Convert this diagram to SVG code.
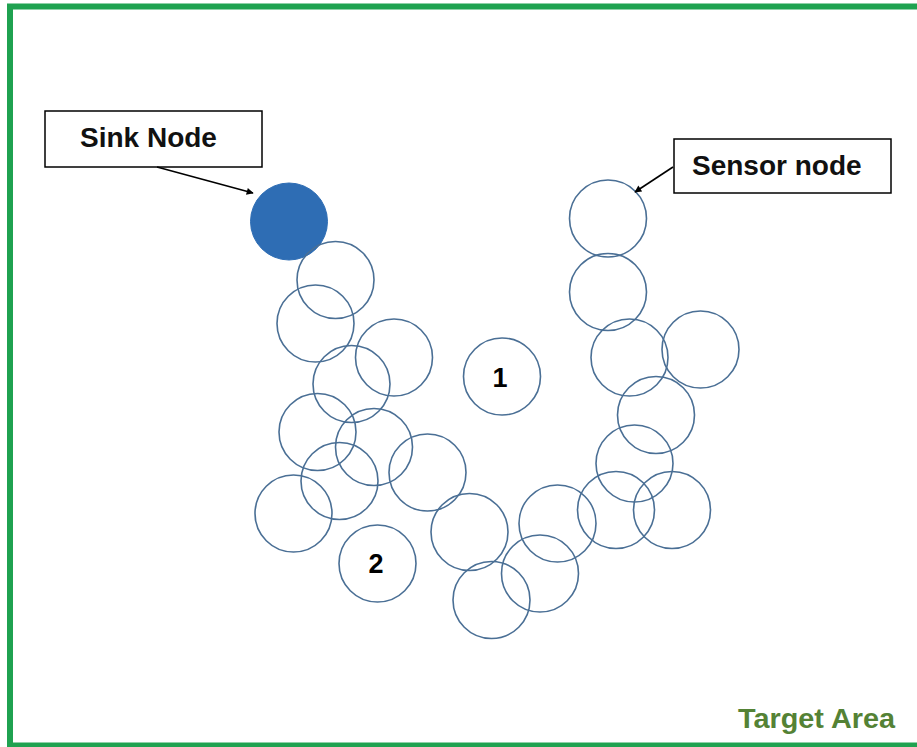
<svg xmlns="http://www.w3.org/2000/svg" width="917" height="747" viewBox="0 0 917 747">
  <style>
    .sensor { fill: none; stroke: #4a6f95; stroke-width: 1.6; }
    .sink { fill: #2e6db4; stroke: #2e6db4; stroke-width: 1; }
    .callout { fill: #ffffff; stroke: #000000; stroke-width: 1.5; }
    .label { font-family: "Liberation Sans", Arial, sans-serif; font-weight: bold; font-size: 28px; fill: #111111; }
    .num { font-family: "Liberation Sans", Arial, sans-serif; font-weight: bold; font-size: 27px; fill: #000000; text-anchor: middle; }
    .area { font-family: "Liberation Sans", Arial, sans-serif; font-weight: bold; font-size: 28px; fill: #548235; }
    .pointer { stroke: #000000; stroke-width: 1.6; fill: none; marker-end: url(#head); }
  </style>
  <defs>
    <marker id="head" viewBox="0 0 10 10" refX="9" refY="5" markerWidth="8" markerHeight="7" orient="auto" markerUnits="userSpaceOnUse">
      <path d="M0,0 L10,5 L0,10 z" fill="#000000"/>
    </marker>
  </defs>

  <rect x="0" y="0" width="917" height="747" fill="#ffffff"/>

  <!-- deployment boundary -->
  <g id="target-area">
    <rect x="10" y="6.5" width="920" height="739" fill="none" stroke="#1fa250" stroke-width="6"/>
    <text class="area" x="738" y="728" textLength="157" lengthAdjust="spacingAndGlyphs">Target Area</text>
  </g>

  <!-- sink -->
  <g id="sink">
    <circle class="sink" cx="289" cy="221.5" r="38.5"/>
  </g>

  <!-- sensor nodes -->
  <g id="sensor-a"><circle class="sensor" cx="335.5" cy="280" r="38.5"/></g>
  <g id="sensor-b"><circle class="sensor" cx="315.5" cy="323.5" r="38.5"/></g>
  <g id="sensor-c"><circle class="sensor" cx="394" cy="357.5" r="38.5"/></g>
  <g id="sensor-d"><circle class="sensor" cx="351.5" cy="384" r="38.5"/></g>
  <g id="sensor-e"><circle class="sensor" cx="317.5" cy="432" r="38.5"/></g>
  <g id="sensor-f"><circle class="sensor" cx="374" cy="447" r="38.5"/></g>
  <g id="sensor-g"><circle class="sensor" cx="339.5" cy="481" r="38.5"/></g>
  <g id="sensor-h"><circle class="sensor" cx="427.5" cy="472.5" r="38.5"/></g>
  <g id="sensor-i"><circle class="sensor" cx="293.5" cy="513.5" r="38.5"/></g>
  <g id="sensor-j"><circle class="sensor" cx="469.5" cy="532" r="38.5"/></g>
  <g id="sensor-k"><circle class="sensor" cx="491.5" cy="600" r="38.5"/></g>
  <g id="sensor-l"><circle class="sensor" cx="540" cy="573.5" r="38.5"/></g>
  <g id="sensor-m"><circle class="sensor" cx="557.5" cy="523.5" r="38.5"/></g>
  <g id="sensor-n"><circle class="sensor" cx="616" cy="510" r="38.5"/></g>
  <g id="sensor-o"><circle class="sensor" cx="672" cy="510" r="38.5"/></g>
  <g id="sensor-p"><circle class="sensor" cx="634.5" cy="463.5" r="38.5"/></g>
  <g id="sensor-t"><circle class="sensor" cx="656" cy="415" r="38.5"/></g>
  <g id="sensor-r"><circle class="sensor" cx="629.5" cy="357.5" r="38.5"/></g>
  <g id="sensor-s"><circle class="sensor" cx="700.5" cy="349.5" r="38.5"/></g>
  <g id="sensor-v"><circle class="sensor" cx="608" cy="292" r="38.5"/></g>
  <g id="sensor-u"><circle class="sensor" cx="608" cy="218.5" r="38.5"/></g>

  <!-- isolated nodes -->
  <g id="sensor-1">
    <circle class="sensor" cx="502" cy="376.5" r="38.5"/>
    <text class="num" x="500" y="387">1</text>
  </g>
  <g id="sensor-2">
    <circle class="sensor" cx="377.5" cy="563.5" r="38.5"/>
    <text class="num" x="376" y="573">2</text>
  </g>

  <!-- callout labels -->
  <g id="label-sink">
    <rect class="callout" x="45" y="111" width="217" height="56"/>
    <text class="label" x="80" y="147">Sink Node</text>
  </g>
  <g id="label-sensor">
    <rect class="callout" x="674" y="139" width="217" height="54"/>
    <text class="label" x="692" y="175">Sensor node</text>
  </g>

  <g id="connectors">
    <line class="pointer" x1="157" y1="167" x2="253" y2="193"/>
    <line class="pointer" x1="673" y1="167" x2="635" y2="192"/>
  </g>
</svg>
